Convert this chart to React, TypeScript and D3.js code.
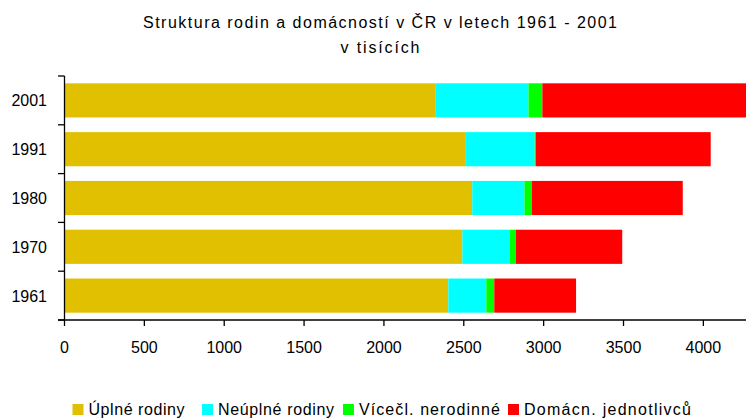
import * as d3 from "d3";
import { useEffect, useRef } from "react";

const years = ["2001", "1991", "1980", "1970", "1961"];
const uplne = [2325, 2513, 2553, 2491, 2403];
const neuplne = [580, 431, 327, 298, 238];
const vicecl = [87, 8, 47, 38, 50];
const jednotlivci = [1275, 1094, 944, 665, 512];
const seriesNames = ["Úplné rodiny", "Neúplné rodiny", "Vícečl. nerodinné", "Domácn. jednotlivců"];
const seriesColors = ["#e0c000", "#00ffff", "#00ff00", "#ff0000"];
const xTicks = [0, 500, 1000, 1500, 2000, 2500, 3000, 3500, 4000];

export default function App() {
    const ref = useRef<SVGSVGElement>(null);
    const W = 746, H = 418;

    useEffect(() => {
        drawChart();
    }, []);

    function drawChart() {
        const svg = d3.select(ref.current);
        svg.selectAll("*").remove();
        const font = "'Liberation Sans', Arial, sans-serif";

        const rows = years.map((y, i) => ({
            year: y,
            vals: [uplne[i], neuplne[i], vicecl[i], jednotlivci[i]],
        }));

        const x = d3.scaleLinear().domain([0, 4267]).range([64.5, W]);
        const y = d3.scaleBand().domain(years).range([76, 320]).paddingInner(0.3).paddingOuter(0.15);

        // title (stretched to the width of the original bitmap font)
        svg.append("text").attr("x", 380).attr("y", 28).attr("text-anchor", "middle")
            .attr("textLength", 474).attr("lengthAdjust", "spacing")
            .style("font", "16px " + font)
            .text("Struktura rodin a domácností v ČR v letech 1961 - 2001");
        svg.append("text").attr("x", 380).attr("y", 53).attr("text-anchor", "middle")
            .attr("textLength", 79).attr("lengthAdjust", "spacing")
            .style("font", "16px " + font)
            .text("v tisících");

        // stacked bars
        const g = svg.append("g");
        rows.forEach(r => {
            let acc = 0;
            r.vals.forEach((v, k) => {
                g.append("rect")
                    .attr("x", x(acc))
                    .attr("y", y(r.year)!)
                    .attr("width", x(acc + v) - x(acc))
                    .attr("height", y.bandwidth())
                    .attr("fill", seriesColors[k]);
                acc += v;
            });
        });

        // y axis
        svg.append("line").attr("x1", 64.5).attr("x2", 64.5).attr("y1", 76).attr("y2", 320)
            .attr("stroke", "#000").attr("stroke-width", 1.3);
        const bounds = years.map(yr => y(yr)! - y.step() * 0.15).concat([320]);
        bounds.forEach(b => {
            svg.append("line").attr("x1", 58).attr("x2", 64.5).attr("y1", b).attr("y2", b)
                .attr("stroke", "#000").attr("stroke-width", 1.3);
        });
        years.forEach(yr => {
            svg.append("text").attr("x", 47).attr("y", y(yr)! + y.bandwidth() / 2 + 6)
                .attr("text-anchor", "end")
                .style("font", "16px " + font).style("fill", "#000")
                .text(yr);
        });

        // x axis
        svg.append("line").attr("x1", 58).attr("x2", W).attr("y1", 320).attr("y2", 320)
            .attr("stroke", "#000").attr("stroke-width", 1.3);
        xTicks.forEach(t => {
            svg.append("line").attr("x1", x(t)).attr("x2", x(t)).attr("y1", 320).attr("y2", 326)
                .attr("stroke", "#000").attr("stroke-width", 1.3);
            svg.append("text").attr("x", x(t)).attr("y", 353).attr("text-anchor", "middle")
                .style("font", "16px " + font).style("fill", "#000")
                .text(t);
        });

        // legend
        const legendX = [72.5, 202, 343, 508];
        const legendW = [96, 116, 141, 167];
        seriesNames.forEach((n, k) => {
            svg.append("rect").attr("x", legendX[k]).attr("y", 404).attr("width", 11).attr("height", 11)
                .attr("fill", seriesColors[k]);
            svg.append("text").attr("x", legendX[k] + 16).attr("y", 415)
                .attr("textLength", legendW[k]).attr("lengthAdjust", "spacing")
                .style("font", "16px " + font).style("fill", "#000")
                .text(n);
        });
    }

    return (
        <div style={{ position: "fixed", left: 0, top: 0 }}>
            <svg ref={ref} width={W} height={H} style={{ display: "block", background: "#fff" }}></svg>
        </div>
    );
}
